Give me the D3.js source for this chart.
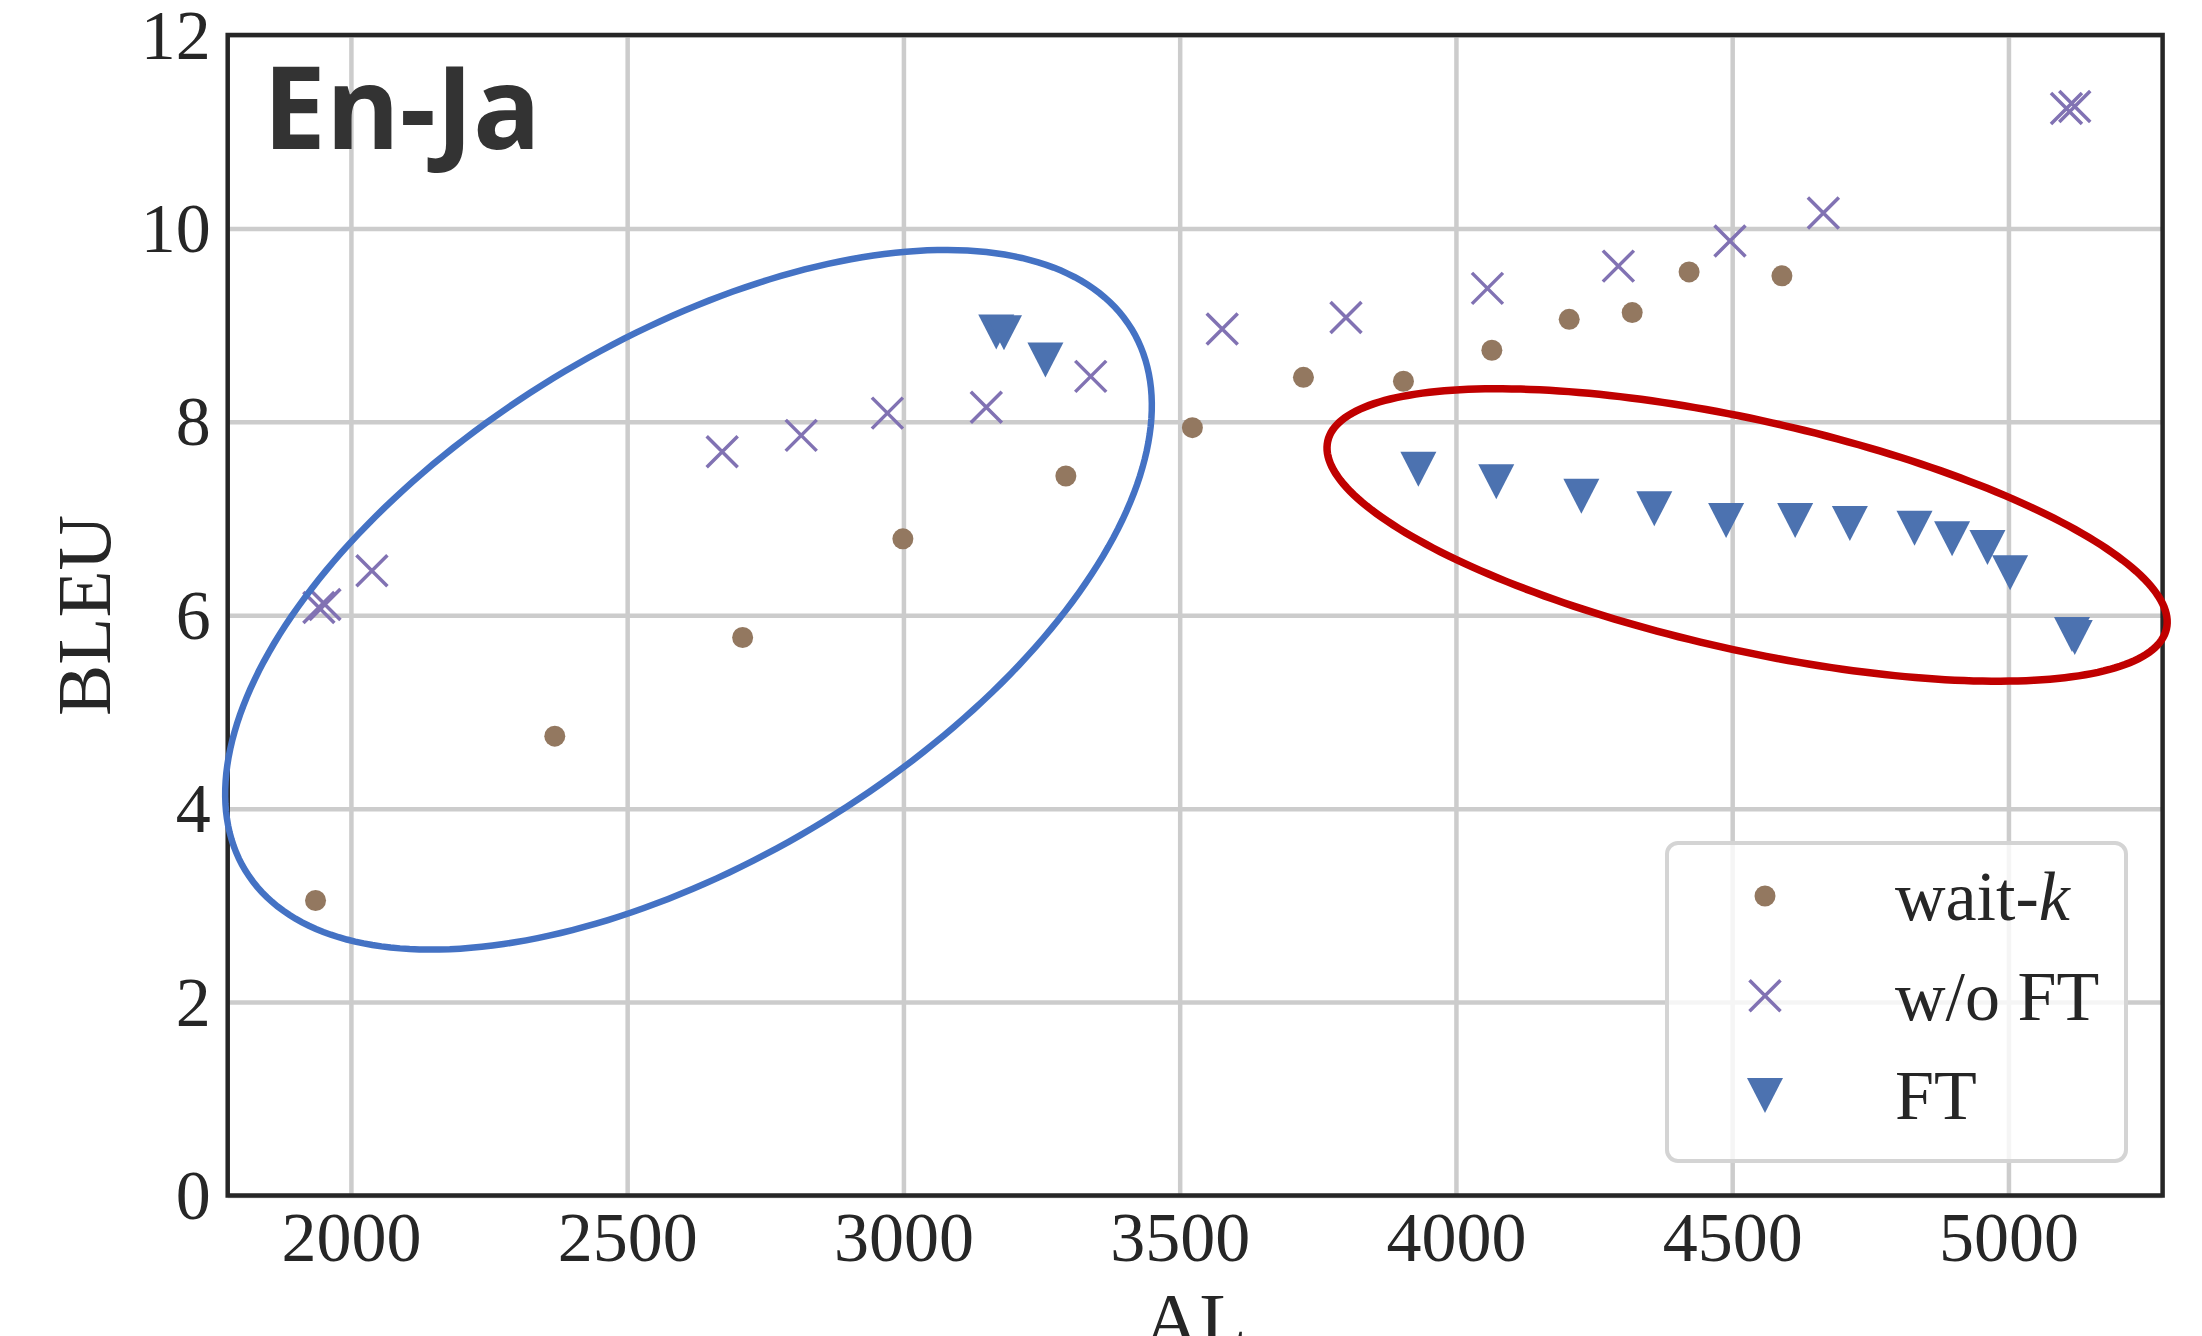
<!DOCTYPE html>
<html>
<head>
<meta charset="utf-8">
<script src="https://cdn.jsdelivr.net/npm/d3@7"></script>
<style>
  body { margin: 0; background: #fff; }
  svg { display: block; }
</style>
</head>
<body>
<div id="chart"></div>
<script>
// values (AL on x, BLEU on y)
var waitkAL   = [1936, 2369, 2709, 2999, 3294, 3523, 3724, 3905, 4065, 4205, 4319, 4422, 4590];
var waitkBLEU = [3.05, 4.75, 5.77, 6.79, 7.44, 7.94, 8.46, 8.42, 8.74, 9.06, 9.13, 9.55, 9.51];

var woftAL   = [1942, 1953, 2038, 2672, 2815, 2971, 3150, 3339, 3577, 3801, 4057, 4294, 4496, 4665, 5105, 5120];
var woftBLEU = [6.08, 6.11, 6.46, 7.69, 7.86, 8.09, 8.15, 8.47, 8.96, 9.08, 9.38, 9.61, 9.87, 10.16, 11.24, 11.26];

var ftAL   = [3168, 3182, 3257, 3932, 4073, 4227, 4359, 4489, 4614, 4713, 4830, 4898, 4962, 5003, 5115, 5120];
var ftBLEU = [8.93, 8.92, 8.64, 7.51, 7.38, 7.23, 7.10, 6.98, 6.98, 6.95, 6.90, 6.79, 6.70, 6.44, 5.80, 5.77];

var xTicks = [2000, 2500, 3000, 3500, 4000, 4500, 5000];
var yTicks = [0, 2, 4, 6, 8, 10, 12];
var legendLabels = ["wait-k", "w/o FT", "FT"];

// highlight ellipses, in data units: centre, half major axis, half minor axis
var blueEllipse = {c: [2611, 6.16], u: [802, 2.80], v: [245, -2.29]};
var redEllipse  = {c: [4527, 6.83], u: [759, -0.97], v: [-45, -1.16]};

function drawChart() {
    // note: can't call these top/left globally, window.top is read only
    var width = 2202, height = 1336;
    var plotL = 227.7, plotR = 2162.6, plotT = 35, plotB = 1195.5;
    var serif = "'Liberation Serif', 'Times New Roman', serif";
    var ink = "#262626";

    var x = d3.scaleLinear().domain([1777, 5279]).range([plotL, plotR]);
    var y = d3.scaleLinear().domain([0, 12]).range([plotB, plotT]);

    var svg = d3.select("#chart").append("svg")
        .attr("width", width)
        .attr("height", height);

    // grid
    var gx = svg.append("g")
        .attr("transform", "translate(0," + plotB + ")")
        .call(d3.axisBottom(x).tickValues(xTicks).tickSize(-(plotB - plotT)).tickFormat(""));
    var gy = svg.append("g")
        .attr("transform", "translate(" + plotL + ",0)")
        .call(d3.axisLeft(y).tickValues(yTicks).tickSize(-(plotR - plotL)).tickFormat(""));
    [gx, gy].forEach(function(g) {
        g.select(".domain").remove();
        g.selectAll("line").attr("stroke", "#cccccc").attr("stroke-width", 4.5);
    });

    // frame
    svg.append("rect")
        .attr("x", plotL).attr("y", plotT)
        .attr("width", plotR - plotL).attr("height", plotB - plotT)
        .attr("fill", "none")
        .attr("stroke", ink)
        .attr("stroke-width", 4.5);

    // tick labels
    var lx = svg.append("g")
        .attr("transform", "translate(0," + plotB + ")")
        .call(d3.axisBottom(x).tickValues(xTicks).tickSize(0).tickPadding(16).tickFormat(d3.format("d")));
    var ly = svg.append("g")
        .attr("transform", "translate(" + plotL + ",0)")
        .call(d3.axisLeft(y).tickValues(yTicks).tickSize(0).tickPadding(17).tickFormat(d3.format("d")));
    [lx, ly].forEach(function(g) {
        g.select(".domain").remove();
        g.attr("font-family", serif).attr("font-size", 70);
        g.selectAll("text").attr("fill", ink);
    });
    ly.selectAll("text").attr("dy", "0.33em");

    // markers
    var trianglePath = "M-18,-17.5L18,-17.5L0,17.5Z";
    var crossPath = "M-15.5,-15.5L15.5,15.5M-15.5,15.5L15.5,-15.5";

    svg.append("g").selectAll("circle")
        .data(d3.zip(waitkAL, waitkBLEU))
        .enter().append("circle")
        .attr("cx", function(d) { return x(d[0]); })
        .attr("cy", function(d) { return y(d[1]); })
        .attr("r", 10.5)
        .attr("fill", "#937860");

    svg.append("g").selectAll("path")
        .data(d3.zip(woftAL, woftBLEU))
        .enter().append("path")
        .attr("transform", function(d) { return "translate(" + x(d[0]) + "," + y(d[1]) + ")"; })
        .attr("d", crossPath)
        .attr("fill", "none")
        .attr("stroke", "#8172b3")
        .attr("stroke-width", 3.5);

    svg.append("g").selectAll("path")
        .data(d3.zip(ftAL, ftBLEU))
        .enter().append("path")
        .attr("transform", function(d) { return "translate(" + x(d[0]) + "," + y(d[1]) + ")"; })
        .attr("d", trianglePath)
        .attr("fill", "#4c72b0");

    // ellipses drawn on top
    var ellipseLine = d3.line()
        .x(function(d) { return x(d[0]); })
        .y(function(d) { return y(d[1]); })
        .curve(d3.curveLinearClosed);

    function ellipsePoints(e) {
        return d3.range(0, 2 * Math.PI, Math.PI / 120).map(function(t) {
            return [e.c[0] + Math.cos(t) * e.u[0] + Math.sin(t) * e.v[0],
                    e.c[1] + Math.cos(t) * e.u[1] + Math.sin(t) * e.v[1]];
        });
    }

    svg.append("path")
        .attr("d", ellipseLine(ellipsePoints(blueEllipse)))
        .attr("fill", "none")
        .attr("stroke", "#4472c4")
        .attr("stroke-width", 6.5);

    svg.append("path")
        .attr("d", ellipseLine(ellipsePoints(redEllipse)))
        .attr("fill", "none")
        .attr("stroke", "#c00000")
        .attr("stroke-width", 7.5);

    // legend
    var legend = svg.append("g");
    legend.append("rect")
        .attr("x", 1667).attr("y", 843)
        .attr("width", 459).attr("height", 318)
        .attr("rx", 11)
        .attr("fill", "#ffffff").attr("fill-opacity", 0.8)
        .attr("stroke", "#d4d4d4")
        .attr("stroke-width", 4);

    var rows = legend.selectAll("g.row")
        .data(legendLabels)
        .enter().append("g")
        .attr("class", "row")
        .attr("transform", function(d, i) { return "translate(1765," + (896 + i * 99.7) + ")"; });

    rows.each(function(d, i) {
        var r = d3.select(this);
        if (i === 0) r.append("circle").attr("r", 10.5).attr("fill", "#937860");
        if (i === 1) r.append("path").attr("d", crossPath).attr("stroke", "#8172b3").attr("stroke-width", 3.5);
        if (i === 2) r.append("path").attr("d", trianglePath).attr("fill", "#4c72b0");
        var t = r.append("text")
            .attr("x", 130)
            .attr("dy", "0.34em")
            .attr("font-family", serif)
            .attr("font-size", 70)
            .attr("fill", ink);
        if (d === "wait-k") {
            t.append("tspan").text("wait-");
            t.append("tspan").attr("font-style", "italic").text("k");
        } else {
            t.text(d);
        }
    });

    // axis titles
    svg.append("text")
        .attr("transform", "translate(110,615.5) rotate(-90)")
        .attr("text-anchor", "middle")
        .attr("font-family", serif)
        .attr("font-size", 77)
        .attr("fill", ink)
        .text("BLEU");

    svg.append("text")
        .attr("x", (plotL + plotR) / 2)
        .attr("y", 1346)
        .attr("text-anchor", "middle")
        .attr("font-family", serif)
        .attr("font-size", 77)
        .attr("fill", ink)
        .text("AL");

    // panel title
    svg.append("text")
        .attr("x", 263)
        .attr("y", 148.5)
        .attr("font-family", "'Open Sans', 'Noto Sans', sans-serif")
        .attr("font-weight", "bold")
        .attr("font-size", 114)
        .attr("textLength", 278)
        .attr("lengthAdjust", "spacingAndGlyphs")
        .attr("fill", "#333333")
        .text("En-Ja");
}

drawChart();
</script>
</body>
</html>
